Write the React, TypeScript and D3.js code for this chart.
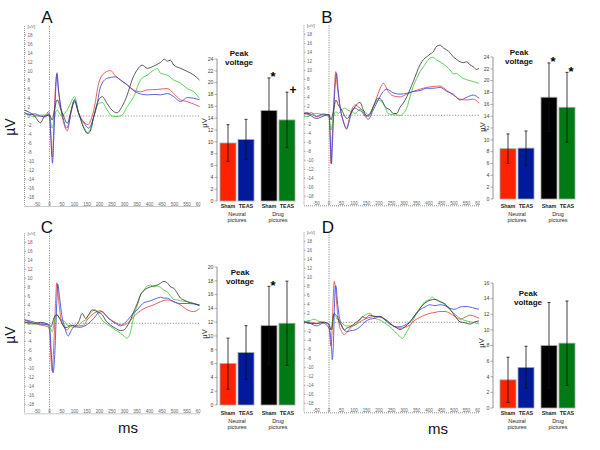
import React from "react";
import * as d3 from "d3";

type Pt = [number, number];

// ---------- ERP waveforms: [ms, µV] ----------
const A_shamNeutral: Pt[] = [[-100,0.6],[-80,0.4],[-60,0.2],[-36,-0.1],[-15,0.2],[-4,1.0],[0,0.6],[5,-4],[9,-8.5],[12,-9],[17,-3],[24,6.5],[29,9.3],[35,6],[44,2],[57,-1.6],[71,-3.3],[87,1.3],[100,3.7],[117,0.6],[137,-1.3],[153,-1.9],[177,1.3],[197,7.3],[211,9.1],[244,10.1],[264,8.9],[284,8],[311,6.9],[337,5.8],[364,5.4],[391,5.8],[431,5.9],[471,6.1],[497,5],[524,3.6],[551,3.2],[600,2.1]];
const A_teasNeutral: Pt[] = [[-100,0.8],[-80,0.3],[-60,0.5],[-36,0],[-15,-0.2],[-4,0.5],[0,0],[6,-5],[12,-10.5],[17,-5],[24,5],[30,9.6],[36,6],[44,2.5],[57,-1],[68,-2.7],[80,-1],[87,1],[100,3.5],[117,0.4],[137,-1.5],[157,-2.7],[177,-0.2],[190,2.5],[204,6.5],[231,8.4],[264,8.7],[284,8],[311,6.9],[337,5.6],[364,4.9],[391,4.7],[417,4.8],[444,4.7],[471,5.0],[497,4.3],[524,3.2],[551,4.1],[600,3.6]];
const A_shamDrug: Pt[] = [[-100,1.3],[-80,0.8],[-63,0.2],[-36,-1.5],[-20,-0.1],[0,0.2],[11,-0.9],[20,1.5],[31,3.6],[44,1.7],[57,-0.1],[71,-1.6],[87,1.3],[100,3.2],[117,0.6],[137,-2.7],[153,-3.9],[165,-3.1],[177,-0.1],[197,3.6],[211,4.3],[230,2.8],[250,1.3],[270,0.7],[290,2.1],[311,4.7],[330,8],[350,10.2],[371,11.3],[391,10.6],[417,11.1],[444,11.9],[460,12.6],[471,12.2],[484,12.4],[497,11.3],[524,10.6],[551,9.9],[577,9.1],[600,8]];
const A_teasDrug: Pt[] = [[-100,0.6],[-60,-0.1],[-36,0.2],[-9,0.2],[0,-0.3],[11,-2.7],[20,-0.1],[31,1.3],[40,0.6],[50,-0.1],[60,0.6],[71,1.3],[87,3.2],[100,4.3],[117,0.6],[137,-2.4],[153,-3.7],[165,-2.7],[177,-0.1],[197,2.8],[211,3.0],[231,1.3],[250,0],[270,-0.1],[290,0.2],[311,2.1],[337,4.3],[364,8],[391,9.1],[417,10.2],[431,10.6],[444,9.5],[471,9.1],[497,8],[524,7.3],[551,6.1],[577,5.4],[600,3.9]];

const B_shamNeutral: Pt[] = [[-100,0.3],[-89,0.3],[-70,0.6],[-49,-0.3],[-23,0.1],[0,0.1],[4,-4],[8,-10.7],[12,-6],[17,0.2],[22,6],[27,9.7],[33,6.5],[44,1.9],[57,-1.4],[71,-3.1],[80,-1],[91,1.2],[104,2.3],[117,1.9],[131,1.2],[144,0.1],[157,-0.3],[177,1.9],[197,4.9],[211,6.7],[217,7.1],[237,5.3],[257,4.3],[284,4.1],[311,4.7],[337,5.3],[364,5.8],[391,6.2],[417,6.4],[444,6.5],[471,5.5],[497,4.5],[524,3.6],[551,3.4],[577,3.6],[600,2.7]];
const B_teasNeutral: Pt[] = [[-100,0.4],[-89,0.6],[-70,0.2],[-49,-0.2],[-23,0.3],[0,0],[5,-5],[10,-10.8],[14,-6],[20,2],[25,7],[30,9.3],[36,6],[44,2],[57,-1.2],[71,-2.9],[80,-1.5],[91,0.8],[104,1.6],[117,1.2],[131,0.8],[144,-0.2],[157,-0.9],[177,1.2],[197,3.4],[217,5.3],[231,5.8],[257,5.0],[284,4.7],[311,4.9],[337,5.3],[364,5.5],[391,6.0],[417,6.0],[444,6.2],[471,5.3],[497,4.7],[524,3.4],[551,4.0],[577,4.5],[600,3.8]];
const B_shamDrug: Pt[] = [[-100,0.5],[-89,0.4],[-49,-0.7],[-23,-0.2],[0,0.2],[8,-1.0],[17,0.8],[28,3.4],[37,2.3],[51,1.2],[64,-0.3],[73,-0.7],[91,0.8],[104,1.9],[124,2.9],[137,1.2],[150,-0.1],[165,0.4],[177,1.9],[197,3.8],[210,3.4],[225,1.9],[244,1.2],[257,0.4],[271,0.4],[284,1.8],[297,2.7],[311,4.1],[337,7.5],[364,11.2],[378,12.4],[391,13.0],[404,13.6],[417,14.1],[430,15.3],[444,15.6],[457,15.0],[471,14.5],[484,13.9],[497,13.0],[511,12.4],[524,11.9],[537,11.7],[551,11.9],[564,11.2],[577,10.8],[590,10.2],[600,10.4]];
const B_teasDrug: Pt[] = [[-100,-0.2],[-89,-0.3],[-70,0.2],[-49,0.4],[-23,0.1],[0,-0.3],[8,-3.3],[17,-0.6],[28,0.8],[37,0.4],[51,1.2],[64,1.6],[73,1.2],[91,0.8],[104,0.4],[124,1.3],[144,0.8],[157,0.1],[177,1.9],[197,3.4],[211,3.0],[224,1.9],[237,0.4],[257,0.1],[271,0.1],[284,-0.1],[297,0.4],[311,1.6],[324,4.1],[337,6.4],[351,8.2],[364,9.7],[378,10.8],[391,11.9],[404,12.7],[417,12.9],[430,12.3],[444,11.9],[457,11.4],[471,10.8],[484,10.1],[497,9.2],[511,9.3],[524,8.7],[537,8.2],[551,7.9],[577,7.5],[600,7.1]];

const C_shamNeutral: Pt[] = [[-100,0.7],[-63,0],[-36,-0.4],[-9,-0.7],[0,-1.5],[7,-8.9],[11,-10.7],[17,-5],[24,4.4],[29,9.0],[37,5],[44,1.5],[57,-0.7],[71,-1.5],[84,-0.6],[100,-0.4],[117,-0.6],[137,-0.4],[150,0.7],[170,1.9],[190,2.6],[204,2.8],[217,2.2],[237,1.1],[257,0.4],[277,-0.2],[297,-0.4],[311,0],[324,0.7],[337,1.5],[351,2.2],[364,2.8],[391,3.6],[417,4.1],[444,4.8],[471,5.2],[497,4.8],[524,4.1],[551,3.0],[577,2.6],[600,3.3]];
const C_teasNeutral: Pt[] = [[-100,0.8],[-63,0.3],[-36,-0.2],[-9,-0.3],[0,-1.1],[11,-9.6],[14,-11],[20,-8],[29,4.4],[33,8.7],[40,5.9],[50,1.5],[60,-0.7],[71,-2.6],[76,-2.8],[84,-1.9],[100,-0.7],[117,-0.9],[137,-0.7],[157,0],[177,1.1],[197,2.4],[211,2.6],[224,1.9],[244,0.7],[264,0],[284,-0.6],[297,-0.1],[311,0.6],[324,1.5],[337,2.4],[351,3.0],[364,3.9],[378,4.6],[391,4.8],[404,5.0],[417,5.3],[431,5.6],[444,5.8],[457,5.6],[471,5.6],[484,5.2],[497,4.8],[524,4.4],[551,4.4],[577,4.3],[600,4.1]];
const C_shamDrug: Pt[] = [[-100,0.3],[-63,0],[-36,0.2],[-9,-0.1],[0,-0.4],[7,-0.7],[11,-0.1],[20,1.5],[29,1.9],[40,1.1],[50,0],[60,-0.9],[71,-0.9],[84,-0.4],[100,-0.6],[117,0.4],[131,2.2],[144,1.1],[157,1.9],[170,3.0],[184,2.8],[197,2.4],[211,1.9],[224,0.7],[244,-0.4],[264,-1.1],[284,-1.6],[297,-1.5],[311,-0.6],[324,0.7],[337,2.6],[351,4.4],[364,6.3],[378,7.3],[391,7.8],[404,8.1],[417,8.3],[431,8.5],[444,8.9],[457,9.3],[471,9.0],[484,8.1],[497,7.8],[511,6.7],[524,5.6],[537,5.2],[551,4.8],[577,4.4],[600,3.9]];
const C_teasDrug: Pt[] = [[-100,0.2],[-63,-0.2],[-36,0],[-9,-0.3],[0,-0.7],[11,-1.9],[20,0.7],[29,2.0],[40,1.1],[50,0.7],[60,0.4],[71,-0.4],[84,-0.7],[100,-0.9],[117,-0.4],[131,0.4],[144,0.7],[157,1.9],[170,2.6],[184,3.0],[197,1.9],[211,0.7],[224,0],[244,-0.7],[264,-1.5],[284,-2.2],[297,-2.8],[311,-3.3],[324,-1.9],[337,1.5],[351,3.9],[364,6.3],[378,7.4],[391,8.3],[404,8.5],[417,8.1],[431,8.3],[444,8.0],[457,7.4],[471,7.0],[484,6.1],[497,5.3],[511,5.2],[524,5.0],[551,4.8],[577,4.4],[600,4.1]];

const D_shamNeutral: Pt[] = [[-100,0.1],[-89,0.1],[-49,-0.2],[-23,0],[-5,-0.2],[0,-1.0],[5,-4],[8,-5.3],[13,-1],[17,5.7],[21,9.1],[27,6.9],[33,2.8],[41,-0.6],[51,-2.1],[61,-2.7],[71,-2.3],[84,-1.3],[104,-0.6],[124,0.1],[144,0.7],[164,1.1],[184,1.3],[204,1.1],[224,0.7],[244,-0.2],[264,-1.0],[284,-1.3],[304,-1.1],[324,-0.6],[344,0.5],[364,1.1],[384,1.6],[404,2.0],[424,2.2],[444,2.4],[464,2.4],[484,2.0],[504,1.3],[524,0.7],[544,1.1],[564,1.6],[584,1.3],[600,0.9]];
const D_teasNeutral: Pt[] = [[-100,-0.2],[-89,0],[-49,-0.8],[-23,-0.2],[0,-1.3],[5,-2.5],[11,-6.6],[13,-8.3],[17,-5.5],[21,2],[25,8.0],[28,8.1],[33,5],[41,1.3],[51,-0.8],[61,-1.7],[71,-2.1],[84,-1.9],[104,-1.7],[124,-1.0],[144,0.1],[164,0.7],[184,0.9],[204,1.3],[224,0.7],[244,-0.2],[264,-1.0],[284,-1.0],[304,-0.6],[324,0.1],[344,1.6],[364,2.8],[384,3.4],[404,3.9],[424,3.7],[444,3.9],[464,3.7],[484,3.1],[504,2.9],[524,3.4],[544,3.5],[564,3.4],[584,3.1],[600,2.9]];
const D_shamDrug: Pt[] = [[-100,0.1],[-89,-0.1],[-49,-0.3],[-23,0],[0,-0.4],[8,-1.7],[13,-1],[17,1.3],[21,2.0],[27,1.6],[33,1.3],[41,0.1],[51,-0.8],[61,-1.7],[71,-1.3],[84,-1.0],[104,-0.2],[124,0.7],[134,1.3],[144,0.9],[164,1.6],[184,1.3],[204,1.3],[224,0.5],[244,-0.4],[264,-1.0],[284,-1.6],[304,-1.0],[324,0.1],[344,1.6],[364,3.1],[384,4.3],[404,4.9],[424,5.1],[444,4.6],[464,4.1],[484,2.9],[504,1.4],[524,0.1],[544,-0.1],[564,-0.4],[584,0.1],[600,0.3]];
const D_teasDrug: Pt[] = [[-100,0.2],[-80,0.3],[-60,0.7],[-40,0.2],[-23,0.1],[0,-0.6],[8,-1.6],[13,0],[21,1.6],[27,1.3],[33,0.7],[41,0.5],[51,-0.1],[61,-0.6],[71,-0.8],[84,-0.8],[104,-0.6],[124,0.5],[144,1.6],[164,2.0],[174,1.6],[184,0.9],[204,0.5],[224,-0.2],[244,-1.0],[264,-2.1],[284,-3.2],[294,-3.6],[304,-2.8],[324,-0.8],[344,1.3],[364,3.1],[384,4.6],[404,5.1],[414,5.6],[424,5.1],[444,4.6],[464,3.9],[484,2.8],[504,1.8],[524,0.9],[544,0.4],[564,0.1],[584,-0.1],[600,-0.4]];

// ---------- Bar data ----------
const conditions = ["Sham", "TEAS"];
const groups = ["Neutral", "Drug"];
const groupLabels = [["Neutral", "pictures"], ["Drug", "pictures"]];
const A_means = [9.8, 10.4, 15.3, 13.7];
const A_sd = [3.1, 3.4, 5.5, 4.7];
const A_marks = ["", "", "*", "+"];
const B_means = [8.5, 8.6, 17.2, 15.5];
const B_sd = [2.5, 2.9, 5.8, 5.9];
const B_marks = ["", "", "*", "*"];
const C_means = [6.0, 7.6, 11.5, 11.85];
const C_sd = [3.7, 3.9, 5.7, 6.1];
const C_marks = ["", "", "*", ""];
const D_means = [3.6, 5.2, 8.0, 8.3];
const D_sd = [2.9, 2.7, 5.5, 5.4];
const D_marks = ["", "", "", ""];

const erpYTicks = d3.range(-18, 19, 2);
const erpXTicks = d3.range(-50, 601, 50);

const erpColors = ["#e4463c", "#3d48de", "#3c3c3c", "#3ccc3c"];
const barColors = ["#ff2200", "#001a9c", "#000000", "#007a14"];
const FONT = "'Liberation Sans', Arial, Helvetica, sans-serif";

function ErpPanel(props: { id: string; xr: [number, number]; yr: [number, number]; series: Pt[][] }) {
  const { id, xr, yr, series } = props;
  const x = d3.scaleLinear().domain([-100, 600]).range(xr);
  const y = d3.scaleLinear().domain([-20, 20]).range(yr);
  const line = d3.line<Pt>().x((d) => x(d[0])).y((d) => y(d[1])).curve(d3.curveMonotoneX);
  const order = [0, 3, 1, 2];
  return (
    <g fontFamily={FONT}>
      <clipPath id={"clip" + id}>
        <rect x={xr[0] - 2} y={yr[1] - 6} width={xr[1] - xr[0] + 3} height={yr[0] - yr[1] + 10} />
      </clipPath>
      <line x1={x(-100)} x2={x(-100)} y1={y(20)} y2={y(-20)} stroke="#777" strokeWidth={0.8} strokeDasharray="1,1" />
      <line x1={x(-100)} x2={x(600)} y1={y(-20) + 0.5} y2={y(-20) + 0.5} stroke="#777" strokeWidth={0.8} strokeDasharray="1,1" />
      {erpYTicks.map((t) => (
        <g key={t}>
          <line x1={x(-100)} x2={x(-100) + 1.5} y1={y(t)} y2={y(t)} stroke="#777" strokeWidth={0.6} />
          <text x={x(-100) + 3} y={y(t) + 1.6} fontSize={4.6} fill="#666">{t}</text>
        </g>
      ))}
      <text x={x(-100) + 3} y={y(20) + 2} fontSize={4.4} fill="#666">[uV]</text>
      <g clipPath={`url(#clip${id})`}>
        {erpXTicks.map((t) => (
          <text key={t} x={x(t)} y={y(-20) - 0.3} fontSize={4.6} fill="#666" textAnchor="middle">{t}</text>
        ))}
      </g>
      <line x1={x(0)} x2={x(0)} y1={y(20)} y2={y(-20)} stroke="#666" strokeWidth={0.7} strokeDasharray="1.2,1.2" />
      <line x1={x(0)} x2={x(600)} y1={y(0)} y2={y(0)} stroke="#666" strokeWidth={0.7} strokeDasharray="1.2,1.6" />
      <g clipPath={`url(#clip${id})`}>
        {order.map((i) => (
          <path key={i} d={line(series[i]) || ""} fill="none" stroke={erpColors[i]} strokeWidth={0.85} />
        ))}
      </g>
    </g>
  );
}

function BarPanel(props: {
  axisX: number; y0: number; yTop: number; maxVal: number; xr: [number, number];
  means: number[]; sd: number[]; marks: string[]; catY: number;
  title: [number, number]; micro: [number, number];
}) {
  const { axisX, y0, yTop, maxVal, xr, means, sd, marks, catY, title, micro } = props;
  const y = d3.scaleLinear().domain([0, maxVal]).range([y0, yTop]);
  const gx = d3.scaleBand<string>().domain(groups).range(xr).paddingInner(0.17);
  const cx = d3.scaleBand<string>().domain(conditions).range([0, gx.bandwidth()]).paddingInner(0.111);
  const ticks = d3.range(0, maxVal + 0.1, 2);
  const bars = groups.flatMap((g, gi) => conditions.map((c, ci) => ({ g, c, i: gi * 2 + ci })));
  return (
    <g fontFamily={FONT}>
      <line x1={axisX} x2={axisX} y1={y(0)} y2={y(maxVal)} stroke="#777" strokeWidth={0.8} />
      {ticks.map((t) => (
        <g key={t}>
          <line x1={axisX - 2.5} x2={axisX} y1={y(t)} y2={y(t)} stroke="#777" strokeWidth={0.6} />
          <text x={axisX - 3.5} y={y(t) + 1.8} fontSize={5.2} fill="#444" textAnchor="end">{t}</text>
        </g>
      ))}
      <text transform={`translate(${micro[0]},${micro[1]}) rotate(-90)`} fontSize={7.5} textAnchor="middle" dominantBaseline="middle" fill="#222">µV</text>
      <text x={title[0]} y={title[1] + 3} fontSize={8} fontWeight="bold" textAnchor="middle" fill="#111">Peak</text>
      <text x={title[0]} y={title[1] + 12} fontSize={8} fontWeight="bold" textAnchor="middle" fill="#111">voltage</text>
      {bars.map(({ g, c, i }) => {
        const bx = (gx(g) || 0) + (cx(c) || 0);
        const bw = cx.bandwidth();
        const mid = bx + bw / 2;
        const hi = means[i] + sd[i];
        const lo = Math.max(0, means[i] - sd[i]);
        const isPlus = marks[i] === "+";
        return (
          <g key={i}>
            <rect x={bx} y={y(means[i])} width={bw} height={y(0) - y(means[i])} fill={barColors[i]} stroke="#a8a8a8" strokeWidth={0.8} />
            <line x1={mid} x2={mid} y1={y(hi)} y2={y(lo)} stroke="#111" strokeWidth={0.8} />
            <line x1={mid - 1.5} x2={mid + 1.5} y1={y(hi)} y2={y(hi)} stroke="#111" strokeWidth={0.8} />
            <line x1={mid - 1.5} x2={mid + 1.5} y1={y(lo)} y2={y(lo)} stroke="#111" strokeWidth={0.8} />
            {marks[i] && (
              <text x={mid + (isPlus ? 6 : 4)} y={y(hi) + (isPlus ? 2 : 3.5)} fontSize={isPlus ? 12 : 13} fontWeight="bold" textAnchor="middle" fill="#000">{marks[i]}</text>
            )}
            <text x={mid} y={catY + 2} fontSize={5.4} fontWeight="bold" textAnchor="middle" fill="#222">{c}</text>
          </g>
        );
      })}
      {groups.map((g, gi) => (
        <g key={g}>
          <text x={(gx(g) || 0) + gx.bandwidth() / 2} y={catY + 10} fontSize={5.4} textAnchor="middle" fill="#222">{groupLabels[gi][0]}</text>
          <text x={(gx(g) || 0) + gx.bandwidth() / 2} y={catY + 16} fontSize={5.4} textAnchor="middle" fill="#222">{groupLabels[gi][1]}</text>
        </g>
      ))}
    </g>
  );
}

export default function App() {
  return (
    <svg width={600} height={450} style={{ position: "absolute", left: 0, top: 0, background: "#fff" }}>
      <rect x={0} y={0} width={600} height={450} fill="#fff" />
      <ErpPanel id="A" xr={[24.5, 199.5]} yr={[206, 26]} series={[A_shamNeutral, A_teasNeutral, A_shamDrug, A_teasDrug]} />
      <ErpPanel id="B" xr={[304, 479]} yr={[205.3, 25.3]} series={[B_shamNeutral, B_teasNeutral, B_shamDrug, B_teasDrug]} />
      <ErpPanel id="C" xr={[24.5, 199.5]} yr={[413.3, 233.3]} series={[C_shamNeutral, C_teasNeutral, C_shamDrug, C_teasDrug]} />
      <ErpPanel id="D" xr={[304, 479]} yr={[412.3, 232.3]} series={[D_shamNeutral, D_teasNeutral, D_shamDrug, D_teasDrug]} />

      <BarPanel axisX={217} y0={201} yTop={59} maxVal={24} xr={[220, 295]} means={A_means} sd={A_sd} marks={A_marks} catY={206} title={[239, 53]} micro={[205, 123]} />
      <BarPanel axisX={493} y0={199} yTop={57} maxVal={24} xr={[500, 575]} means={B_means} sd={B_sd} marks={B_marks} catY={206} title={[519, 52]} micro={[483, 127]} />
      <BarPanel axisX={217} y0={405} yTop={267} maxVal={20} xr={[220, 295]} means={C_means} sd={C_sd} marks={C_marks} catY={413} title={[240, 272]} micro={[205, 334]} />
      <BarPanel axisX={493} y0={408} yTop={283} maxVal={16} xr={[500, 575]} means={D_means} sd={D_sd} marks={D_marks} catY={413} title={[528, 293]} micro={[482, 343]} />

      <g fontFamily={FONT} fill="#111">
        <text x={47} y={23} fontSize={17} textAnchor="middle">A</text>
        <text x={327} y={23} fontSize={17} textAnchor="middle">B</text>
        <text x={47} y={233} fontSize={17} textAnchor="middle">C</text>
        <text x={328} y={233} fontSize={17} textAnchor="middle">D</text>
        <text transform="translate(11,127) rotate(-90)" fontSize={14} textAnchor="middle" dominantBaseline="middle">µV</text>
        <text transform="translate(11,335) rotate(-90)" fontSize={14} textAnchor="middle" dominantBaseline="middle">µV</text>
        <text x={128} y={433} fontSize={15} textAnchor="middle">ms</text>
        <text x={438} y={434} fontSize={15} textAnchor="middle">ms</text>
      </g>
    </svg>
  );
}
